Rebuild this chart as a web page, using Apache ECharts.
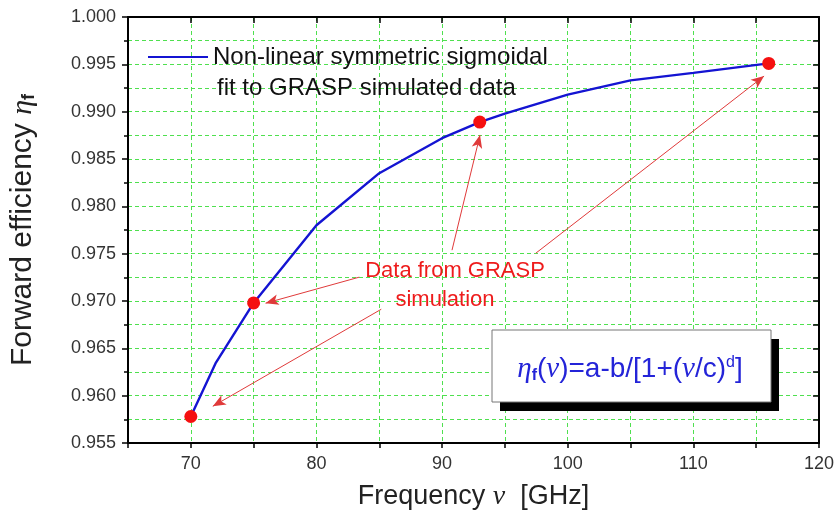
<!DOCTYPE html>
<html>
<head>
<meta charset="utf-8">
<script src="https://cdn.jsdelivr.net/npm/echarts@6/dist/echarts.min.js"></script>
<style>html,body{margin:0;padding:0;background:#fff;}#c{width:837px;height:521px;}</style>
</head>
<body>
<div id="c"></div>
<script>
// ---- data ----
const fitFreq = [70, 72, 75, 80, 85, 90, 93, 95, 100, 105, 110, 116];
const fitEff  = [0.9578, 0.9635, 0.9698, 0.9780, 0.9835, 0.9872, 0.9889, 0.9898, 0.9918, 0.9933, 0.9941, 0.9951];
const simFreq = [70, 75, 93, 116];
const simEff  = [0.9578, 0.9698, 0.9889, 0.9951];
const xTicks = [70, 80, 90, 100, 110, 120];
const fitName = 'Non-linear symmetric sigmoidal fit to GRASP simulated data';
const simName = 'Data from GRASP simulation';
// annotation arrows (tail -> head), in data units
const arrowTails = [[85.16, 0.96913], [83.41, 0.97252], [90.79, 0.97537], [97.46, 0.97505]];
const arrowHeads = [[71.75, 0.95888], [75.95, 0.96977], [93.02, 0.98753], [115.63, 0.99376]];

const FONT = '"Liberation Sans", Arial, sans-serif';
const SERIF = '"Liberation Serif", "DejaVu Serif", serif';
const gridLine = {show: true, lineStyle: {color: '#4fe04f', type: [4, 3], width: 1}};

const chart = echarts.init(document.getElementById('c'), null, {renderer: 'canvas'});
const option = {
  backgroundColor: '#fff',
  animation: false,
  grid: {left: 128, right: 14, top: 17, bottom: 78, containLabel: false},
  legend: {
    data: [{name: fitName, icon: 'rect', itemStyle: {color: '#1414d2'}}], left: 143, top: 40, itemWidth: 60, itemHeight: 2,
    formatter: () => 'Non-linear symmetric sigmoidal',
    textStyle: {fontSize: 24, color: '#111', fontFamily: FONT}
  },
  xAxis: [{
    type: 'value', min: 65, max: 120, interval: 5, position: 'bottom',
    axisLine: {onZero: false, lineStyle: {color: '#000', width: 2}},
    axisTick: {inside: false, length: 5, lineStyle: {color: '#000', width: 1.5}},
    axisLabel: {formatter: v => xTicks.includes(v) ? String(v) : '', fontSize: 18, color: '#333', margin: 12, fontFamily: FONT},
    splitLine: gridLine,
    name: '{a|Frequency }{g|ν}{a|  [GHz]}', nameLocation: 'middle', nameGap: 40,
    nameTextStyle: {rich: {
      a: {fontSize: 27, color: '#222', fontFamily: FONT},
      g: {fontSize: 28, color: '#222', fontFamily: SERIF, fontStyle: 'italic'}
    }}
  }, {
    type: 'value', min: 65, max: 120, interval: 5, position: 'top',
    axisLine: {onZero: false, lineStyle: {color: '#000', width: 2}},
    axisTick: {inside: true, length: 6, lineStyle: {color: '#000', width: 1.5}},
    axisLabel: {show: false}, splitLine: {show: false}
  }],
  yAxis: [{
    type: 'value', min: 0.955, max: 1.0, interval: 0.005, position: 'left',
    axisLine: {onZero: false, lineStyle: {color: '#000', width: 2}},
    axisTick: {inside: false, length: 6, lineStyle: {color: '#000', width: 1.5}},
    minorTick: {show: true, splitNumber: 2, length: 4, lineStyle: {color: '#000', width: 1.5}},
    axisLabel: {formatter: v => v.toFixed(3), fontSize: 18, color: '#333', margin: 12, fontFamily: FONT},
    splitLine: gridLine,
    minorSplitLine: gridLine,
    name: '{a|Forward efficiency }{g|η}{s|f}', nameLocation: 'middle', nameGap: 90,
    nameTextStyle: {rich: {
      a: {fontSize: 30, color: '#222', fontFamily: FONT},
      g: {fontSize: 30, color: '#222', fontFamily: SERIF, fontStyle: 'italic'},
      s: {fontSize: 18, color: '#222', fontFamily: FONT, fontWeight: 'bold', verticalAlign: 'bottom', padding: [10, 0, 0, 0]}
    }}
  }, {
    type: 'value', min: 0.955, max: 1.0, interval: 0.005, position: 'right',
    axisLine: {onZero: false, lineStyle: {color: '#000', width: 2}},
    axisTick: {inside: true, length: 6, lineStyle: {color: '#000', width: 1.5}},
    minorTick: {show: true, splitNumber: 2, length: 6, lineStyle: {color: '#000', width: 1.5}},
    axisLabel: {show: false}, splitLine: {show: false}
  }],
  series: [{
    name: fitName, type: 'line', xAxisIndex: 0, yAxisIndex: 0,
    data: fitFreq.map((f, i) => [f, fitEff[i]]),
    showSymbol: false, symbol: 'none', smooth: false,
    lineStyle: {color: '#1414d2', width: 2.4}, itemStyle: {color: '#1414d2'}, z: 3
  }, {
    name: simName, type: 'scatter', xAxisIndex: 0, yAxisIndex: 0,
    data: simFreq.map((f, i) => [f, simEff[i]]),
    symbol: 'circle', symbolSize: 13, itemStyle: {color: '#f51010', opacity: 1}, z: 5,
    markLine: {
      silent: true, symbol: ['none', 'arrow'], symbolSize: [8, 13], precision: 5,
      label: {show: false},
      lineStyle: {color: '#e03a3a', width: 1, type: 'solid', opacity: 1},
      emphasis: {disabled: true},
      data: arrowTails.map((t, i) => [{coord: t}, {coord: arrowHeads[i]}])
    }
  }],
  graphic: [
    {type: 'text', x: 217, y: 88, z: 10, style: {text: 'fit to GRASP simulated data', font: '24px ' + FONT, fill: '#111', verticalAlign: 'middle'}},
    {type: 'text', x: 455, y: 271, z: 10, style: {text: 'Data from GRASP', font: '22px ' + FONT, fill: '#ee1c1c', align: 'center', verticalAlign: 'middle'}},
    {type: 'text', x: 445, y: 300, z: 10, style: {text: 'simulation', font: '22px ' + FONT, fill: '#ee1c1c', align: 'center', verticalAlign: 'middle'}},
    {type: 'rect', z: 10, shape: {x: 500, y: 339, width: 279, height: 72}, style: {fill: '#000'}},
    {type: 'rect', z: 11, shape: {x: 492, y: 330, width: 279, height: 72}, style: {fill: '#fff', stroke: '#777', lineWidth: 1}},
    {type: 'text', z: 12, x: 630, y: 369, style: {
      text: '{g|η}{s|f}{t|(}{g|ν}{t|)=a-b/[1+(}{g|ν}{t|/c)}{p|d}{t|]}',
      align: 'center', verticalAlign: 'middle',
      rich: {
        t: {fontSize: 28, fill: '#2424d8', fontFamily: FONT},
        g: {fontSize: 29, fill: '#2424d8', fontFamily: SERIF, fontStyle: 'italic'},
        s: {fontSize: 16, fill: '#2424d8', fontFamily: FONT, fontWeight: 'bold', verticalAlign: 'bottom', padding: [12, 0, 0, 0]},
        p: {fontSize: 16, fill: '#2424d8', fontFamily: FONT, verticalAlign: 'top', padding: [0, 0, 12, 0]}
      }
    }}
  ]
};
chart.setOption(option);
</script>
</body>
</html>
